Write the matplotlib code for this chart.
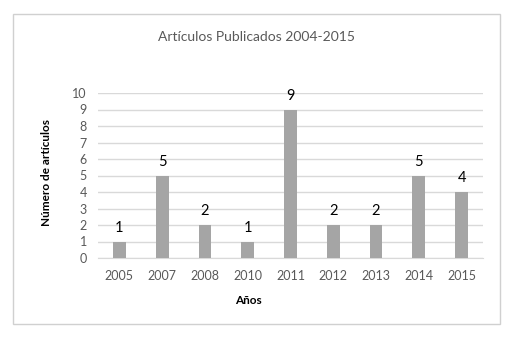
import matplotlib
matplotlib.use("Agg")
import matplotlib.pyplot as plt
from matplotlib.patches import Rectangle

years = ["2005", "2007", "2008", "2010", "2011", "2012", "2013", "2014", "2015"]
counts = [1, 5, 2, 1, 9, 2, 2, 5, 4]
yticks = list(range(0, 11))

plt.rcParams['font.family'] = ['Lato', 'DejaVu Sans']

fig = plt.figure(figsize=(5.2, 3.45), dpi=100)
fig.patch.set_facecolor('white')
fig.add_artist(Rectangle((13/520, 1-324/345), 487/520, 310/345, transform=fig.transFigure,
                         fill=False, edgecolor='#d0d0d0', linewidth=1.0))

ax = fig.add_axes([98/520, 1-258/345, 385/520, 165/345])
x = list(range(len(years)))
bars = ax.bar(x, counts, width=0.3, color='#a5a5a5', zorder=3)
ax.set_ylim(0, 10)
ax.set_xlim(-0.5, len(years) - 0.5)
ax.set_yticks(yticks)
ax.set_xticks(x)
ax.set_xticklabels(years)
ax.tick_params(axis='both', length=0, colors='#595959', labelsize=9)
ax.tick_params(axis='x', pad=9)
ax.tick_params(axis='y', pad=8)
ax.grid(axis='y', color='#d9d9d9', linewidth=1.0, zorder=0)
for s in ['top', 'right', 'left']:
    ax.spines[s].set_visible(False)
ax.spines['bottom'].set_color('#d9d9d9')

for xi, v in zip(x, counts):
    ax.annotate(str(v), (xi, v), xytext=(0, 5), textcoords='offset points',
                ha='center', va='bottom', fontsize=10.5, color='black')

fig.text(256/520, 1-37/345, "Artículos Publicados 2004-2015", ha='center', va='center',
         fontsize=10, color='#595959')
fig.text(46/520, 1-172/345, "Número de artículos", ha='center', va='center', rotation=90,
         fontsize=8.5, fontweight='bold', color='black')
fig.text(248/520, 1-300/345, "Años", ha='center', va='center',
         fontsize=8.5, fontweight='bold', color='black')

fig.savefig("out.png", dpi=100, facecolor='white')
